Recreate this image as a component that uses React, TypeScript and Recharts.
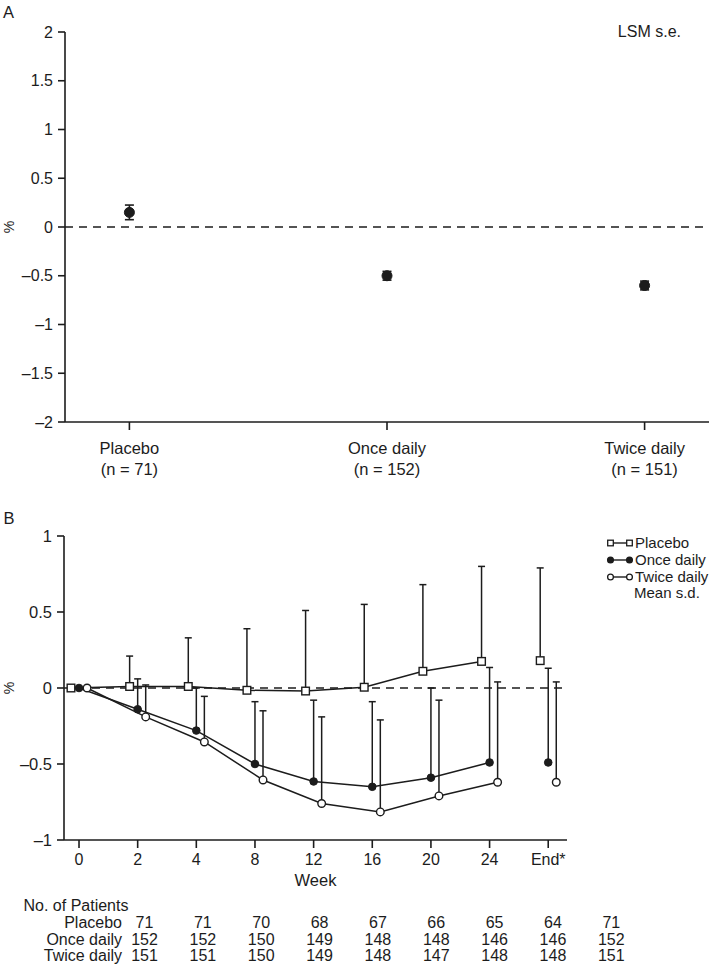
import React from "react";
import { ComposedChart, Line, XAxis, YAxis, ReferenceLine, ErrorBar } from "recharts";

const INK = "#1c1c1c";
const FONT = '"Liberation Sans", Arial, Helvetica, sans-serif';

// panel A: least-squares mean change with s.e.
const groupNames = ["Placebo", "Once daily", "Twice daily"];
const groupN = [71, 152, 151];
const lsmMean = [0.15, -0.5, -0.6];
const lsmSe = [0.075, 0.045, 0.045];
const aTicks = [-2, -1.5, -1, -0.5, 0, 0.5, 1, 1.5, 2];

// panel B: mean change by week with s.d. (upper bar only)
const weekLabels = ["0", "2", "4", "8", "12", "16", "20", "24", "End*"];
const placeboMean = [0, 0.01, 0.01, -0.015, -0.02, 0.005, 0.11, 0.175, 0.18];
const placeboSd = [0, 0.2, 0.32, 0.405, 0.53, 0.545, 0.57, 0.625, 0.61];
const onceMean = [0, -0.14, -0.28, -0.5, -0.615, -0.65, -0.59, -0.49, -0.49];
const onceSd = [0, 0.2, 0.28, 0.41, 0.535, 0.56, 0.59, 0.625, 0.62];
const twiceMean = [0, -0.19, -0.355, -0.605, -0.76, -0.815, -0.71, -0.62, -0.62];
const twiceSd = [0, 0.21, 0.3, 0.455, 0.57, 0.605, 0.63, 0.66, 0.66];
const bTicks = [-1, -0.5, 0, 0.5, 1];

// number of patients table
const placeboN = [71, 71, 70, 68, 67, 66, 65, 64, 71];
const onceN = [152, 152, 150, 149, 148, 148, 146, 146, 152];
const twiceN = [151, 151, 150, 149, 148, 147, 148, 148, 151];

const fmt = (v: number) => (v < 0 ? `\u2013${Math.abs(v)}` : `${v}`);

const groupData = lsmMean.map((y, i) => ({ x: i, y, se: lsmSe[i] }));

const SHIFT = 0.137;
const series = (mean: number[], sd: number[], shift: number) =>
  mean.map((y, i) => ({ x: i + shift, y, sd: [0, sd[i]] }));

const placeboAll = series(placeboMean, placeboSd, -SHIFT);
const onceAll = series(onceMean, onceSd, 0);
const twiceAll = series(twiceMean, twiceSd, SHIFT);
const last = weekLabels.length - 1;

function GroupTick(props: any) {
  const { x, y, payload } = props;
  const i = payload.value;
  return (
    <g fontFamily={FONT} fontSize={16.5} fill={INK}>
      <text x={x} y={y + 22} textAnchor="middle" fill={INK}>
        {groupNames[i]}
      </text>
      <text x={x} y={y + 43} textAnchor="middle" fill={INK}>
        (n = {groupN[i]})
      </text>
    </g>
  );
}

function SquareDot(props: any) {
  const { cx, cy, index } = props;
  if (cx == null || cy == null) return null;
  return (
    <rect key={`sq-${index}-${cx}`} x={cx - 3.8} y={cy - 3.8} width={7.6} height={7.6}
      fill="#fff" stroke={INK} strokeWidth={1.4} />
  );
}

const filledDot = { r: 3.8, fill: INK, stroke: INK, strokeWidth: 1 };
const openDot = { r: 3.8, fill: "#fff", stroke: INK, strokeWidth: 1.4 };

function PanelA() {
  return (
    <ComposedChart width={709} height={490} margin={{ top: 32, right: 0, bottom: 0, left: 8 }}>
      <XAxis type="number" dataKey="x" domain={[-0.25, 2.25]} ticks={[0, 1, 2]} interval={0}
        height={68} tickSize={8} tick={<GroupTick />} stroke={INK} strokeWidth={1.6} />
      <YAxis type="number" domain={[-2, 2]} ticks={aTicks} interval={0} width={57} tickSize={7}
        tickMargin={5} tickFormatter={fmt} stroke={INK} strokeWidth={1.6}
        tick={{ fill: INK, fontSize: 16, fontFamily: FONT }} />
      <ReferenceLine y={0} stroke={INK} strokeWidth={1.6} strokeDasharray="8 6" />
      <Line data={groupData} dataKey="y" stroke="none" isAnimationActive={false}
        dot={{ r: 5, fill: INK, stroke: INK, strokeWidth: 1 }}>
        <ErrorBar dataKey="se" direction="y" width={4.5} stroke={INK} strokeWidth={1.6} />
      </Line>
    </ComposedChart>
  );
}

function PanelB() {
  return (
    <ComposedChart width={709} height={390} margin={{ top: 36, right: 142, bottom: 0, left: 8 }}>
      <XAxis type="number" dataKey="x" domain={[-0.256, 8.32]} ticks={weekLabels.map((_, i) => i)}
        interval={0} height={50} tickSize={8} tickMargin={6} stroke={INK} strokeWidth={1.6}
        tickFormatter={(v) => weekLabels[v]} tick={{ fill: INK, fontSize: 16, fontFamily: FONT }}
        label={{ value: "Week", position: "insideBottom", offset: 4, fill: INK, fontSize: 16.5, fontFamily: FONT }} />
      <YAxis type="number" domain={[-1, 1]} ticks={bTicks} interval={0} width={56} tickSize={7}
        tickMargin={5} tickFormatter={fmt} stroke={INK} strokeWidth={1.6}
        tick={{ fill: INK, fontSize: 16.5, fontFamily: FONT }} />
      <ReferenceLine y={0} stroke={INK} strokeWidth={1.6} strokeDasharray="8 6" />

      <Line data={placeboAll.slice(0, last)} dataKey="y" stroke={INK} strokeWidth={1.5}
        dot={<SquareDot />} isAnimationActive={false}>
        <ErrorBar dataKey="sd" direction="y" width={3.5} stroke={INK} strokeWidth={1.5} />
      </Line>
      <Line data={placeboAll.slice(last)} dataKey="y" stroke={INK} strokeWidth={1.5}
        dot={<SquareDot />} isAnimationActive={false}>
        <ErrorBar dataKey="sd" direction="y" width={3.5} stroke={INK} strokeWidth={1.5} />
      </Line>
      <Line data={onceAll.slice(0, last)} dataKey="y" stroke={INK} strokeWidth={1.5}
        dot={filledDot} isAnimationActive={false}>
        <ErrorBar dataKey="sd" direction="y" width={3.5} stroke={INK} strokeWidth={1.5} />
      </Line>
      <Line data={onceAll.slice(last)} dataKey="y" stroke={INK} strokeWidth={1.5}
        dot={filledDot} isAnimationActive={false}>
        <ErrorBar dataKey="sd" direction="y" width={3.5} stroke={INK} strokeWidth={1.5} />
      </Line>
      <Line data={twiceAll.slice(0, last)} dataKey="y" stroke={INK} strokeWidth={1.5}
        dot={openDot} isAnimationActive={false}>
        <ErrorBar dataKey="sd" direction="y" width={3.5} stroke={INK} strokeWidth={1.5} />
      </Line>
      <Line data={twiceAll.slice(last)} dataKey="y" stroke={INK} strokeWidth={1.5}
        dot={openDot} isAnimationActive={false}>
        <ErrorBar dataKey="sd" direction="y" width={3.5} stroke={INK} strokeWidth={1.5} />
      </Line>
    </ComposedChart>
  );
}

const colX = (i: number) => 144.5 + i * 58.35;

function Overlay() {
  const legendRows = [
    { label: "Placebo", y: 543, kind: "square" },
    { label: "Once daily", y: 560, kind: "filled" },
    { label: "Twice daily", y: 577, kind: "open" },
  ];
  const tableRows = [
    { label: "Placebo", vals: placeboN, y: 928 },
    { label: "Once daily", vals: onceN, y: 945 },
    { label: "Twice daily", vals: twiceN, y: 961 },
  ];
  const marker = (kind: string, cx: number, cy: number, k: string) =>
    kind === "square" ? (
      <rect key={k} x={cx - 2.8} y={cy - 2.8} width={5.6} height={5.6} fill="#fff" stroke={INK} strokeWidth={1.3} />
    ) : (
      <circle key={k} cx={cx} cy={cy} r={2.9} fill={kind === "filled" ? INK : "#fff"} stroke={INK} strokeWidth={1.3} />
    );
  return (
    <svg width={709} height={965} style={{ position: "absolute", left: 0, top: 0, pointerEvents: "none" }}
      fontFamily={FONT} fill={INK}>
      <text x={3} y={17.5} fontSize={16.5}>A</text>
      <text x={681} y={37} fontSize={16} textAnchor="end">LSM s.e.</text>
      <text x={0} y={0} fontSize={14} textAnchor="middle" transform="translate(13.5 227) rotate(-90)">%</text>

      <text x={3.5} y={523.5} fontSize={16.5}>B</text>
      <text x={0} y={0} fontSize={14} textAnchor="middle" transform="translate(13.5 688) rotate(-90)">%</text>

      {legendRows.map((r) => (
        <g key={r.label}>
          <line x1={610.5} x2={629.5} y1={r.y} y2={r.y} stroke={INK} strokeWidth={1.4} />
          {marker(r.kind, 610.5, r.y, "a")}
          {marker(r.kind, 629.5, r.y, "b")}
          <text x={635} y={r.y + 5.4} fontSize={15}>{r.label}</text>
        </g>
      ))}
      <text x={634} y={598.4} fontSize={15}>Mean s.d.</text>

      <text x={23.5} y={911} fontSize={16}>No. of Patients</text>
      {tableRows.map((r) => (
        <g key={r.label}>
          <text x={122} y={r.y} fontSize={16} textAnchor="end">{r.label}</text>
          {r.vals.map((v, i) => (
            <text key={i} x={colX(i)} y={r.y} fontSize={16} textAnchor="middle">{v}</text>
          ))}
        </g>
      ))}
    </svg>
  );
}

export default function App() {
  return (
    <div style={{ position: "absolute", left: 0, top: 0, width: 709, height: 965, background: "#fff", fontFamily: FONT }}>
      <div style={{ position: "absolute", left: 0, top: 0 }}>
        <PanelA />
      </div>
      <div style={{ position: "absolute", left: 0, top: 500 }}>
        <PanelB />
      </div>
      <Overlay />
    </div>
  );
}
